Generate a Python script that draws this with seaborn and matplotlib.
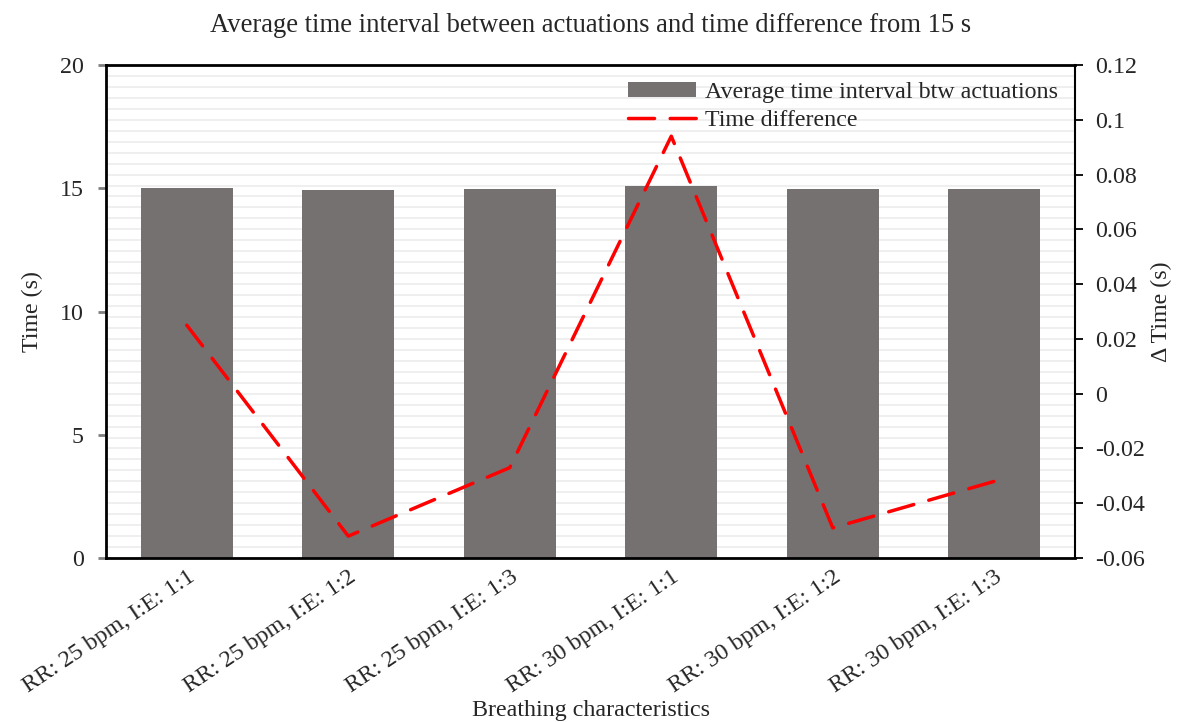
import matplotlib
matplotlib.use("Agg")
import matplotlib.pyplot as plt
import seaborn as sns
import numpy as np
import pandas as pd
from matplotlib.ticker import MultipleLocator, FuncFormatter

categories = ["RR: 25 bpm, I:E: 1:1", "RR: 25 bpm, I:E: 1:2", "RR: 25 bpm, I:E: 1:3",
              "RR: 30 bpm, I:E: 1:1", "RR: 30 bpm, I:E: 1:2", "RR: 30 bpm, I:E: 1:3"]
avg_interval = [15.025, 14.948, 14.973, 15.094, 14.951, 14.968]
time_diff = [0.025, -0.052, -0.027, 0.094, -0.049, -0.032]

sns.set_theme(style="white")
plt.rcParams["font.family"] = ["Liberation Serif", "DejaVu Serif"]

FS = 17.3

df = pd.DataFrame({"cat": categories, "avg": avg_interval, "diff": time_diff})

fig = plt.figure(figsize=(11.82, 7.22), dpi=100)
ax = fig.add_axes([0.0897, 0.2271, 0.8198, 0.6829])
ax2 = ax.twinx()

# gridlines come from the right-hand scale, drawn beneath the bars
ax.set_zorder(2)
ax.patch.set_visible(False)
ax2.set_zorder(1)

sns.barplot(data=df, x="cat", y="avg", ax=ax, color="#767171", width=0.57,
            saturation=1, edgecolor="none", label="Average time interval btw actuations")
ax.set_ylim(0, 20)
ax.yaxis.set_major_locator(MultipleLocator(5))

line_x = np.arange(len(categories))
# dashed difference line on the right scale, drawn above the bars
ax_line = ax.twinx()
ax_line.set_zorder(3)
ax_line.patch.set_visible(False)
sns.lineplot(x=line_x, y=time_diff, ax=ax_line, color="#ff0000", linewidth=2.5,
             label="Time difference")
diff_line = ax_line.lines[0]
diff_line.set_dashes([7.5, 4.5])
diff_line.set_dash_capstyle("round")
diff_line.set_solid_joinstyle("miter")
for a in (ax2, ax_line):
    a.set_ylim(-0.06, 0.12)
ax_line.axis("off")

ax2.yaxis.set_major_locator(MultipleLocator(0.02))
ax2.yaxis.set_minor_locator(MultipleLocator(0.004))
ax2.yaxis.set_major_formatter(FuncFormatter(lambda v, p: "0" if abs(v) < 1e-9 else f"{v:.2f}".rstrip("0")))
ax2.grid(True, which="both", axis="y", color="#efefef", linewidth=1.4)
ax2.tick_params(axis="y", which="major", length=6, width=1.3, color="black",
                labelsize=FS, direction="out", right=True, pad=8.5)
ax2.tick_params(axis="y", which="minor", length=0)
ax2.set_ylabel("Δ Time (s)", fontsize=FS, labelpad=4)

ax.set_xlim(-0.5, len(categories) - 0.5)
ax.set_xticks(line_x)
ax.set_xticklabels(categories, rotation=34, ha="right", rotation_mode="anchor", fontsize=FS)
ax.tick_params(axis="x", length=0, pad=6)
ax.tick_params(axis="y", length=6, width=2, color="#7f7f7f", labelsize=FS, left=True,
               direction="out", pad=10)
ax.set_xlabel("Breathing characteristics", fontsize=FS, labelpad=2)
ax.set_ylabel("Time (s)", fontsize=FS, labelpad=12)

for a in (ax, ax2, ax_line):
    for s in a.spines.values():
        s.set_visible(False)
for name in ("left", "bottom", "top"):
    ax.spines[name].set_visible(True)
    ax.spines[name].set_color("black")
    ax.spines[name].set_linewidth(2)
ax2.spines["right"].set_visible(True)
ax2.spines["right"].set_color("black")
ax2.spines["right"].set_linewidth(1.5)

h1, l1 = ax.get_legend_handles_labels()
h2, l2 = ax_line.get_legend_handles_labels()
if ax_line.get_legend():
    ax_line.get_legend().remove()
if ax.get_legend():
    ax.get_legend().remove()
leg = ax_line.legend(h1 + h2, l1 + l2, loc="upper right", frameon=False, fontsize=FS,
                     handlelength=2.8, handleheight=0.6, borderaxespad=0.3,
                     labelspacing=0.3, handletextpad=0.4)

fig.suptitle("Average time interval between actuations and time difference from 15 s",
             fontsize=19.2, y=0.982)

fig.savefig("out.png", dpi=100)
